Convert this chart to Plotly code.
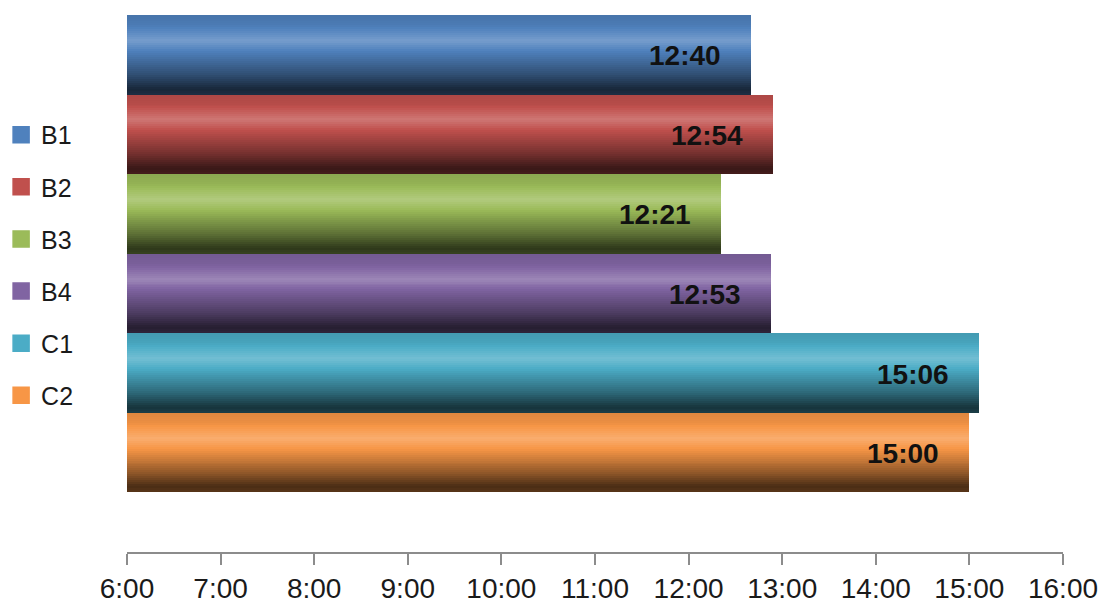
import plotly.graph_objects as go

series = ["B1", "B2", "B3", "B4", "C1", "C2"]
times = ["12:40", "12:54", "12:21", "12:53", "15:06", "15:00"]
colors = ["#4F81BD", "#C0504D", "#9BBB59", "#8064A2", "#4BACC6", "#F79646"]
tick_vals = [6, 7, 8, 9, 10, 11, 12, 13, 14, 15, 16]
tick_labels = ["6:00", "7:00", "8:00", "9:00", "10:00", "11:00", "12:00",
               "13:00", "14:00", "15:00", "16:00"]

hours = [int(t.split(":")[0]) + int(t.split(":")[1]) / 60 for t in times]
x0 = tick_vals[0]

def hex2rgb(h):
    h = h.lstrip("#")
    return [int(h[i:i + 2], 16) for i in (0, 2, 4)]

# lightness profile for cylinder-like shading (t: 0 top -> 1 bottom)
prof = [(0.0, 0.90), (0.12, 0.95), (0.32, 1.17), (0.5, 0.93), (0.75, 0.60), (0.93, 0.30), (1.0, 0.36)]

def lval(t):
    for (t1, v1), (t2, v2) in zip(prof[:-1], prof[1:]):
        if t1 <= t <= t2:
            return v1 + (v2 - v1) * (t - t1) / (t2 - t1)
    return prof[-1][1]

def shade(hexc, L):
    r = hex2rgb(hexc)
    if L >= 1:
        a = (L - 1) * 1.3
        c = [v + (255 - v) * a for v in r]
    else:
        c = [v * L for v in r]
    return "rgb(%d,%d,%d)" % tuple(max(0, min(255, round(v))) for v in c)

fig = go.Figure()
N = 40
for k in range(N):
    t = (k + 0.5) / N
    L = lval(t)
    fig.add_trace(go.Bar(
        y=series, x=[h - x0 for h in hours], base=x0, orientation="h",
        offset=-0.5 + k / N, width=1.0 / N * 1.08,
        marker=dict(color=[shade(c, L) for c in colors], line=dict(width=0)),
        showlegend=False, hoverinfo="skip"))

for s, c in zip(series, colors):
    fig.add_trace(go.Scatter(
        x=[None], y=[None], mode="markers", name=s, legendgroup=s,
        marker=dict(symbol="square", size=16, color=c, line=dict(color=c, width=1.5))))

for s, h, t in zip(series, hours, times):
    fig.add_annotation(x=h, y=s, text="<b>%s</b>" % t, showarrow=False,
                       xanchor="right", xshift=-28, yshift=-1,
                       font=dict(family="Liberation Sans, Arial", size=28, color="#111111"))

fig.update_layout(
    width=1108, height=610,
    margin=dict(l=127, r=45, t=15, b=58, autoexpand=False),
    barmode="overlay", bargap=0,
    plot_bgcolor="white", paper_bgcolor="white",
    font=dict(family="Liberation Sans, Arial", color="#222222"),
    legend=dict(x=-0.1345, xanchor="left", y=0.8194, yanchor="top",
                traceorder="grouped", tracegroupgap=16.6,
                font=dict(size=25, color="#1a1a1a"), itemsizing="trace",
                bgcolor="rgba(0,0,0,0)"),
    xaxis=dict(range=[tick_vals[0], tick_vals[-1]], tickvals=tick_vals, ticktext=tick_labels,
               showgrid=False, zeroline=False, showline=True, linecolor="#8c8c8c", linewidth=1.5,
               ticks="outside", ticklen=11, tickwidth=1.5, tickcolor="#8c8c8c",
               tickfont=dict(size=28, color="#1a1a1a"), automargin=False),
    yaxis=dict(type="category", range=[6.25, -0.5], showticklabels=False, showgrid=False,
               zeroline=False, showline=False, ticks="", automargin=False),
)

fig.write_html("out.html")
